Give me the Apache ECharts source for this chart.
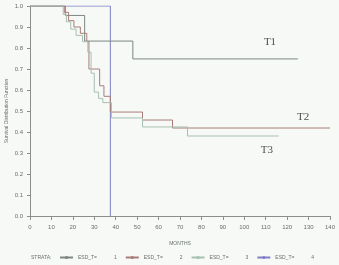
<!DOCTYPE html>
<html>
<head>
<meta charset="utf-8">
<script src="https://cdn.jsdelivr.net/npm/echarts@6/dist/echarts.min.js"></script>
<style>
  html, body { margin: 0; padding: 0; background: #f6f9f6; }
  #chart { width: 339px; height: 265px; }
</style>
</head>
<body>
<div id="chart"></div>
<script>
// survival curves (months, survival)
const t1Time = [0, 16.5, 25.5, 48, 125]
const t1Surv = [1, 0.955, 0.833, 0.748, 0.748]

const t2Time = [0, 16, 18, 20.5, 23.5, 26.5, 27.5, 32.5, 34.5, 37.5, 52.5, 66.5, 140]
const t2Surv = [1, 0.97, 0.93, 0.9, 0.87, 0.83, 0.7, 0.62, 0.57, 0.495, 0.457, 0.419, 0.419]

const t3Time = [0, 15.5, 17, 19, 21.5, 24.5, 27, 28.5, 30, 32, 34, 38, 52.5, 73.5, 116]
const t3Surv = [1, 0.96, 0.925, 0.89, 0.86, 0.83, 0.78, 0.68, 0.59, 0.56, 0.54, 0.467, 0.424, 0.381, 0.381]

const t4Time = [0, 37.5]
const t4Surv = [1, 0]

const strata = ['1', '2', '3', '4']
const curveLabels = ['T1', 'T2', 'T3']

const toPairs = (t, s) => t.map((v, i) => [v, s[i]])

const colors = ['#7c8784', '#a87c78', '#a9bfb2', '#7f7fc4']
const axisColor = '#8a8f8c'
const tickText = { color: '#6a6f6c', fontSize: 6, fontFamily: 'Liberation Sans' }

const myChart = echarts.init(document.getElementById('chart'), null, { renderer: 'canvas' })

const curves = [
  toPairs(t1Time, t1Surv),
  toPairs(t2Time, t2Surv),
  toPairs(t3Time, t3Surv),
  toPairs(t4Time, t4Surv)
]

const series = curves.map((d, i) => ({
  name: strata[i],
  type: 'line',
  step: 'end',
  symbol: 'none',
  data: d,
  z: i === 3 ? 1 : 3,
  lineStyle: { color: colors[i], width: 1 },
  itemStyle: { color: colors[i] }
}))

// T1 / T2 / T3 text beside the curves
series.push({
  name: 'labels',
  type: 'scatter',
  symbolSize: 0,
  silent: true,
  data: [[112, 0.83], [127.5, 0.47], [110.5, 0.315]],
  label: {
    show: true,
    position: 'inside',
    formatter: p => curveLabels[p.dataIndex],
    color: '#222',
    fontSize: 11,
    fontFamily: 'Liberation Serif'
  }
})

myChart.setOption({
  backgroundColor: '#f6f9f6',
  animation: false,
  title: {
    text: 'STRATA:',
    left: 26,
    top: 250,
    textStyle: { color: '#6a6f6c', fontSize: 5, fontWeight: 'normal', fontFamily: 'Liberation Sans' }
  },
  grid: { left: 30, right: 9, top: 6, bottom: 49, containLabel: false, outerBoundsMode: 'none' },
  legend: {
    data: strata,
    left: 54,
    top: 250,
    itemWidth: 13,
    itemHeight: 4,
    itemGap: 8,
    formatter: n => '{a|ESD_T=}{b|' + n + '}',
    textStyle: {
      color: '#6a6f6c',
      fontSize: 5,
      fontFamily: 'Liberation Sans',
      rich: {
        a: { width: 36, fontSize: 5, color: '#6a6f6c' },
        b: { width: 6, fontSize: 5, color: '#6a6f6c' }
      }
    }
  },
  xAxis: {
    type: 'value',
    min: 0,
    max: 140,
    interval: 10,
    name: 'MONTHS',
    nameLocation: 'middle',
    nameGap: 25,
    nameMoveOverlap: false,
    nameTextStyle: { color: '#6a6f6c', fontSize: 5, fontFamily: 'Liberation Sans' },
    axisLine: { show: true, lineStyle: { color: axisColor } },
    axisTick: { show: true, length: 4, lineStyle: { color: axisColor } },
    axisLabel: Object.assign({ margin: 8 }, tickText),
    splitLine: { show: false }
  },
  yAxis: {
    type: 'value',
    min: 0,
    max: 1,
    interval: 0.1,
    offset: 4,
    name: 'Survival Distribution Function',
    nameLocation: 'middle',
    nameGap: 17,
    nameMoveOverlap: false,
    nameTextStyle: { color: '#6a6f6c', fontSize: 5, fontFamily: 'Liberation Sans' },
    axisLine: { show: true, lineStyle: { color: axisColor } },
    axisTick: { show: true, length: 3, lineStyle: { color: axisColor } },
    axisLabel: Object.assign({ margin: 3, formatter: v => v.toFixed(1) }, tickText),
    splitLine: { show: false }
  },
  series
})
</script>
</body>
</html>
